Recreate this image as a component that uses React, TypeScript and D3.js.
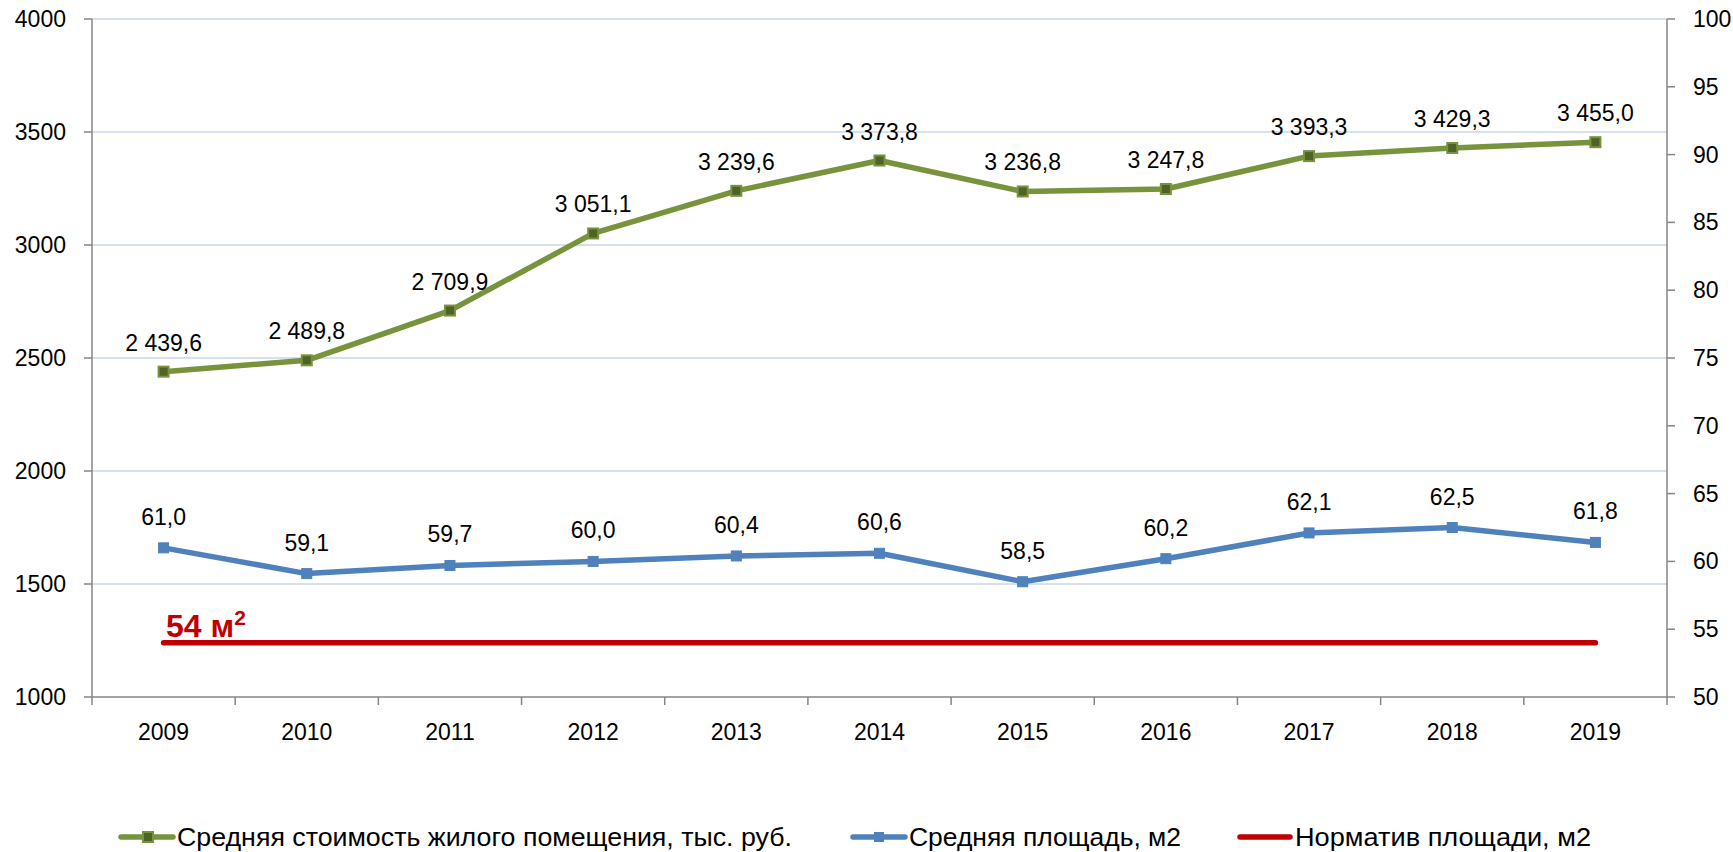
import * as d3 from 'd3'

const YEARS = ['2009', '2010', '2011', '2012', '2013', '2014', '2015', '2016', '2017', '2018', '2019']
const COST = [2439.6, 2489.8, 2709.9, 3051.1, 3239.6, 3373.8, 3236.8, 3247.8, 3393.3, 3429.3, 3455.0]
// plotted positions; labels as printed
const AREA = [61.0, 59.1, 59.7, 60.0, 60.4, 60.6, 58.5, 60.2, 62.1, 62.5, 61.4]
const AREA_LABELS = ['61,0', '59,1', '59,7', '60,0', '60,4', '60,6', '58,5', '60,2', '62,1', '62,5', '61,8']
const NORM = [54, 54, 54, 54, 54, 54, 54, 54, 54, 54, 54]
const LEFT_TICKS = [1000, 1500, 2000, 2500, 3000, 3500, 4000]
const RIGHT_TICKS = [50, 55, 60, 65, 70, 75, 80, 85, 90, 95, 100]
const LEGEND = [
  'Средняя стоимость жилого помещения, тыс. руб.',
  'Средняя площадь, м2',
  'Норматив площади, м2',
]

const W = 1733
const H = 852
const FONT = '"Liberation Sans", Arial, sans-serif'

const GREEN = '#77933C'
const GREEN_DARK = '#4F6228'
const BLUE = '#4F81BD'
const RED = '#C00000'
const GRID = '#C9D7EA'
const AXIS = '#868686'

// space as thousands separator, comma as decimal
const fmtRu = (v: number) => {
  const s = v.toFixed(1).replace('.', ',')
  const [int, dec] = s.split(',')
  return int.replace(/\B(?=(\d{3})+(?!\d))/g, ' ') + ',' + dec
}

export default function App() {
  const left = 92
  const right = 1667
  const top = 19
  const bottom = 697

  const x = d3.scaleBand().domain(YEARS).range([left, right]).padding(0)
  const cx = (y: string) => (x(y) ?? 0) + x.bandwidth() / 2
  const yL = d3.scaleLinear().domain([1000, 4000]).range([bottom, top])
  const yR = d3.scaleLinear().domain([50, 100]).range([bottom, top])

  const costLine = d3.line<number>().x((_, i) => cx(YEARS[i])).y(d => yL(d))
  const areaLine = d3.line<number>().x((_, i) => cx(YEARS[i])).y(d => yR(d))

  const boundaries = [...YEARS.map(y => x(y) ?? 0), right]
  const ly = 837

  return (
    <div style={{ position: 'absolute', left: 0, top: 0 }}>
      <svg width={W} height={H} style={{ display: 'block', fontFamily: FONT }}>
        <rect width={W} height={H} fill="#fff" />

        {/* gridlines */}
        {LEFT_TICKS.filter(t => t > 1000).map(t => (
          <line key={t} x1={left} x2={right} y1={yL(t)} y2={yL(t)} stroke={GRID} strokeWidth={1.5} />
        ))}

        {/* axes */}
        <line x1={left} x2={left} y1={top} y2={bottom} stroke={AXIS} strokeWidth={1.5} />
        <line x1={right} x2={right} y1={top} y2={bottom} stroke={AXIS} strokeWidth={1.5} />
        <line x1={left} x2={right} y1={bottom} y2={bottom} stroke={AXIS} strokeWidth={1.5} />

        {LEFT_TICKS.map(t => (
          <g key={t}>
            <line x1={left - 8} x2={left} y1={yL(t)} y2={yL(t)} stroke={AXIS} strokeWidth={1.5} />
            <text x={66} y={yL(t)} textAnchor="end" dominantBaseline="central" fontSize={23} fill="#000">
              {t}
            </text>
          </g>
        ))}
        {RIGHT_TICKS.map(t => (
          <g key={t}>
            <line x1={right} x2={right + 8} y1={yR(t)} y2={yR(t)} stroke={AXIS} strokeWidth={1.5} />
            <text x={1693} y={yR(t)} textAnchor="start" dominantBaseline="central" fontSize={23} fill="#000">
              {t}
            </text>
          </g>
        ))}
        {boundaries.map((b, i) => (
          <line key={i} x1={b} x2={b} y1={bottom} y2={bottom + 8} stroke={AXIS} strokeWidth={1.5} />
        ))}
        {YEARS.map(y => (
          <text key={y} x={cx(y)} y={732} textAnchor="middle" dominantBaseline="central" fontSize={23} fill="#000">
            {y}
          </text>
        ))}

        {/* norm line */}
        <path
          d={d3.line<number>().x((_, i) => cx(YEARS[i])).y(d => yR(d))(NORM) ?? ''}
          fill="none"
          stroke={RED}
          strokeWidth={5.5}
          strokeLinecap="round"
        />
        <text x={166} y={637} fontSize={32} fontWeight="bold" fill={RED}>
          54 м<tspan fontSize={21} dy={-12}>2</tspan>
        </text>

        {/* cost line */}
        <path d={costLine(COST) ?? ''} fill="none" stroke={GREEN} strokeWidth={5.5} strokeLinejoin="round" />
        {COST.map((v, i) => (
          <g key={i}>
            <rect x={cx(YEARS[i]) - 5} y={yL(v) - 5} width={10} height={10} fill={GREEN_DARK} stroke={GREEN} strokeWidth={2} />
            <text x={cx(YEARS[i])} y={yL(v) - 29} textAnchor="middle" dominantBaseline="central" fontSize={23} fill="#000">
              {fmtRu(v)}
            </text>
          </g>
        ))}

        {/* area line */}
        <path d={areaLine(AREA) ?? ''} fill="none" stroke={BLUE} strokeWidth={5.5} strokeLinejoin="round" />
        {AREA.map((v, i) => (
          <g key={i}>
            <rect x={cx(YEARS[i]) - 5} y={yR(v) - 5} width={10} height={10} fill={BLUE} stroke={BLUE} strokeWidth={1} />
            <text x={cx(YEARS[i])} y={yR(v) - 31} textAnchor="middle" dominantBaseline="central" fontSize={23} fill="#000">
              {AREA_LABELS[i]}
            </text>
          </g>
        ))}

        {/* legend */}
        <g>
          <line x1={121} x2={173} y1={ly} y2={ly} stroke={GREEN} strokeWidth={5.5} strokeLinecap="round" />
          <rect x={143} y={ly - 5} width={10} height={10} fill={GREEN_DARK} stroke={GREEN} strokeWidth={2} />
          <text x={177} y={ly} dominantBaseline="central" fontSize={26} fill="#000"
            textLength={615} lengthAdjust="spacingAndGlyphs">{LEGEND[0]}</text>

          <line x1={853} x2={905} y1={ly} y2={ly} stroke={BLUE} strokeWidth={5.5} strokeLinecap="round" />
          <rect x={874} y={ly - 5} width={10} height={10} fill={BLUE} />
          <text x={909} y={ly} dominantBaseline="central" fontSize={26} fill="#000"
            textLength={272} lengthAdjust="spacingAndGlyphs">{LEGEND[1]}</text>

          <line x1={1240} x2={1290} y1={ly} y2={ly} stroke={RED} strokeWidth={5.5} strokeLinecap="round" />
          <text x={1295} y={ly} dominantBaseline="central" fontSize={26} fill="#000"
            textLength={296} lengthAdjust="spacingAndGlyphs">{LEGEND[2]}</text>
        </g>
      </svg>
    </div>
  )
}
